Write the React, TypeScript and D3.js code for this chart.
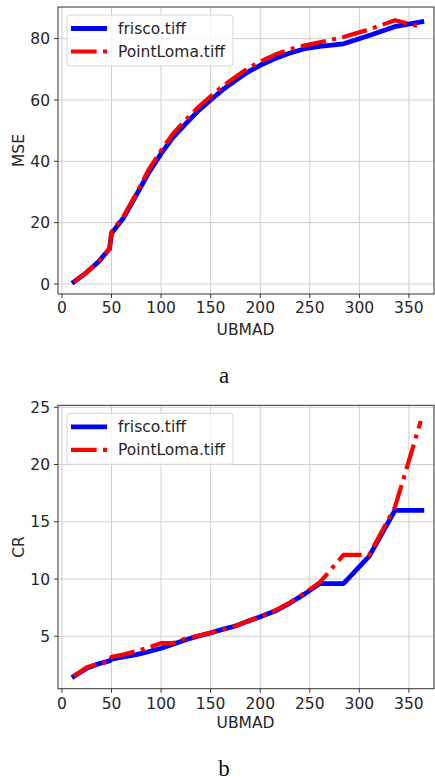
import React from "react";
import * as d3 from "d3";

const xTicks = [0, 50, 100, 150, 200, 250, 300, 350];
const mseTicks = [0, 20, 40, 60, 80];
const crTicks = [5, 10, 15, 20, 25];

const ubmadFriscoMSE = [12, 25, 37, 48, 50, 62, 75, 87, 100, 112, 125, 137, 150, 162, 175, 187, 200, 215, 230, 245, 260, 284, 310, 337, 363];
const friscoMSE = [0.7, 3.8, 7.3, 11.5, 16.5, 21.5, 29, 36, 42.5, 47.8, 52.3, 56.3, 60, 63.3, 66.3, 69, 71.3, 73.5, 75.3, 76.7, 77.5, 78.3, 81, 84, 85.5];
const ubmadPointLomaMSE = [12, 25, 37, 48, 50, 62, 75, 87, 100, 112, 125, 137, 150, 162, 175, 187, 200, 215, 230, 245, 260, 284, 310, 336, 360];
const pointLomaMSE = [0.7, 3.8, 7.3, 11.5, 17, 22, 29.5, 37, 43.5, 49, 53.5, 57.5, 61.2, 64.5, 67.5, 70.2, 72.5, 74.8, 76.5, 77.8, 78.8, 80.5, 83, 86, 84];

const ubmadFriscoCR = [12, 25, 37, 48, 50, 62, 75, 87, 100, 112, 125, 137, 150, 162, 175, 187, 200, 215, 230, 245, 260, 284, 310, 336, 363];
const friscoCR = [1.5, 2.2, 2.6, 2.85, 3.0, 3.2, 3.4, 3.65, 3.95, 4.3, 4.7, 5.0, 5.3, 5.6, 5.9, 6.3, 6.7, 7.2, 7.9, 8.7, 9.6, 9.6, 12, 16, 16];
const ubmadPointLomaCR = [12, 25, 37, 48, 50, 62, 75, 87, 100, 112, 125, 137, 150, 162, 175, 187, 200, 215, 230, 245, 260, 284, 310, 336, 362];
const pointLomaCR = [1.5, 2.3, 2.6, 2.8, 3.2, 3.4, 3.7, 4.0, 4.4, 4.4, 4.8, 5.05, 5.3, 5.6, 5.9, 6.3, 6.7, 7.25, 7.95, 8.8, 9.7, 12.1, 12.1, 16.3, 23.8];

const seriesNames = ["frisco.tiff", "PointLoma.tiff"];

const FONT = "'DejaVu Sans', sans-serif";
const TXT = "#262626";
const FS = 15.5;

type Series = { name: string; xs: number[]; ys: number[]; color: string; width: number; dash?: string };

function Panel(props: {
  top: number; bottom: number; yDomain: [number, number]; yTicks: number[]; yLabel: string;
  series: Series[]; caption: string; captionY: number; xTickY: number; xLabelY: number;
}) {
  const left = 58, right = 434;
  const x = d3.scaleLinear().domain([-4, 375.3]).range([left, right]);
  const y = d3.scaleLinear().domain(props.yDomain).range([props.bottom, props.top]);
  const line = d3.line<[number, number]>().x(d => x(d[0])).y(d => y(d[1]));
  const legX = 67, legY = props.top + 8;
  return (
    <g>
      {xTicks.map(t => (
        <line key={"gx" + t} x1={x(t)} x2={x(t)} y1={props.top} y2={props.bottom} stroke="#cfcfcf" strokeWidth={1} />
      ))}
      {props.yTicks.map(t => (
        <line key={"gy" + t} x1={left} x2={right} y1={y(t)} y2={y(t)} stroke="#cfcfcf" strokeWidth={1} />
      ))}
      {props.series.map(s => (
        <path key={s.name} d={line(s.xs.map((v, i) => [v, s.ys[i]] as [number, number])) || ""}
          fill="none" stroke={s.color} strokeWidth={s.width} strokeDasharray={s.dash}
          strokeLinejoin="round" strokeLinecap={s.dash ? "butt" : "square"} />
      ))}
      <rect x={left} y={props.top} width={right - left} height={props.bottom - props.top} fill="none" stroke="#333" strokeWidth={1} />
      {xTicks.map(t => (
        <g key={"xt" + t}>
          <line x1={x(t)} x2={x(t)} y1={props.bottom} y2={props.bottom + 4} stroke="#333" strokeWidth={1} />
          <text x={x(t)} y={props.xTickY} textAnchor="middle" fontFamily={FONT} fontSize={FS} fill={TXT}>{t}</text>
        </g>
      ))}
      {props.yTicks.map(t => (
        <g key={"yt" + t}>
          <line x1={left - 4} x2={left} y1={y(t)} y2={y(t)} stroke="#333" strokeWidth={1} />
          <text x={left - 8} y={y(t)} dy="0.36em" textAnchor="end" fontFamily={FONT} fontSize={FS} fill={TXT}>{t}</text>
        </g>
      ))}
      <text x={(left + 434) / 2 - 0.5} y={props.xLabelY} textAnchor="middle" fontFamily={FONT} fontSize={FS} fill={TXT}>UBMAD</text>
      <text transform={`translate(24,${(props.top + props.bottom) / 2}) rotate(-90)`} textAnchor="middle" fontFamily={FONT} fontSize={FS} fill={TXT}>{props.yLabel}</text>
      <rect x={legX} y={legY} width={166} height={51} rx={3} fill="white" fillOpacity={0.8} stroke="#d6d6d6" strokeWidth={1} />
      {props.series.map((s, i) => (
        <g key={"lg" + s.name}>
          <line x1={legX + 4} x2={legX + 40} y1={legY + 13.5 + i * 23} y2={legY + 13.5 + i * 23} stroke={s.color} strokeWidth={s.width} strokeDasharray={s.dash} />
          <text x={legX + 51} y={legY + 13.5 + i * 23} dy="0.36em" fontFamily={FONT} fontSize={FS} fill={TXT}>{s.name}</text>
        </g>
      ))}
      <text x={224} y={props.captionY} textAnchor="middle" fontFamily="'Liberation Serif', 'Times New Roman', serif" fontSize={23} fill="#111">{props.caption}</text>
    </g>
  );
}

export default function App() {
  const dash = "25.6 6.4 4 6.4";
  const mseSeries: Series[] = [
    { name: seriesNames[0], xs: ubmadFriscoMSE, ys: friscoMSE, color: "#0000ff", width: 4.8 },
    { name: seriesNames[1], xs: ubmadPointLomaMSE, ys: pointLomaMSE, color: "#ff0000", width: 4.2, dash },
  ];
  const crSeries: Series[] = [
    { name: seriesNames[0], xs: ubmadFriscoCR, ys: friscoCR, color: "#0000ff", width: 4.8 },
    { name: seriesNames[1], xs: ubmadPointLomaCR, ys: pointLomaCR, color: "#ff0000", width: 4.2, dash },
  ];
  return (
    <svg width={435} height={782} style={{ position: "absolute", left: 0, top: 0, background: "white" }}>
      <rect width={435} height={782} fill="white" />
      <Panel top={7} bottom={294} yDomain={[-3.26, 90.3]} yTicks={mseTicks} yLabel="MSE" series={mseSeries}
        caption="a" captionY={383} xTickY={313} xLabelY={335} />
      <Panel top={405.3} bottom={688.7} yDomain={[0.42, 25.17]} yTicks={crTicks} yLabel="CR" series={crSeries}
        caption="b" captionY={776} xTickY={709} xLabelY={728} />
    </svg>
  );
}
